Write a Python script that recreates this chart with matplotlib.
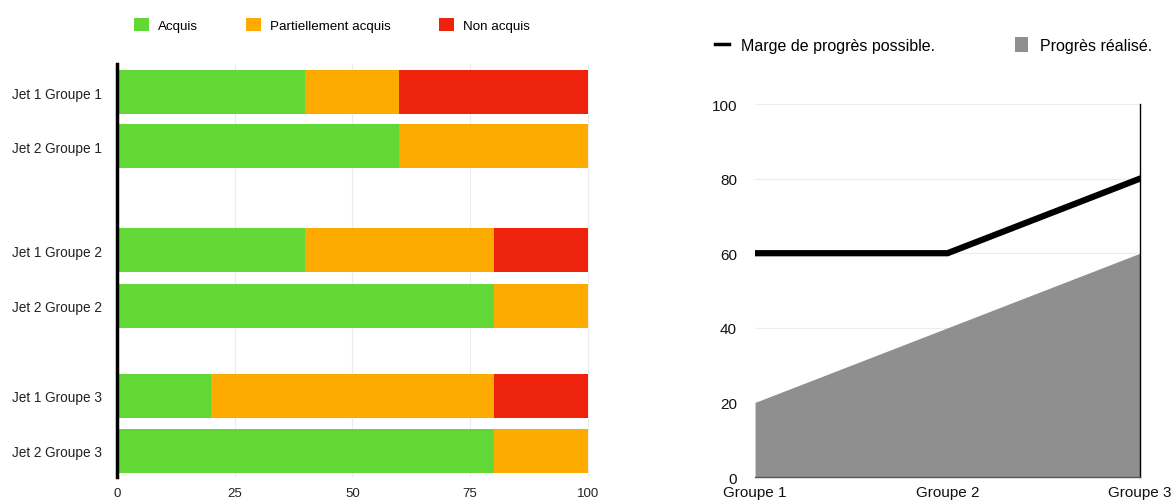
import matplotlib
matplotlib.use("Agg")
import matplotlib.pyplot as plt
from matplotlib.lines import Line2D
from matplotlib.patches import Patch

plt.rcParams['font.family'] = ['Liberation Sans', 'DejaVu Sans']

# Left chart data
bar_labels = ["Jet 1 Groupe 1", "Jet 2 Groupe 1", "Jet 1 Groupe 2",
              "Jet 2 Groupe 2", "Jet 1 Groupe 3", "Jet 2 Groupe 3"]
acquis = [40, 60, 40, 80, 20, 80]
partiel = [20, 40, 40, 20, 60, 20]
non_acquis = [40, 0, 20, 0, 20, 0]
series_names = ["Acquis", "Partiellement acquis", "Non acquis"]
xticks_left = [0, 25, 50, 75, 100]

# Right chart data
groups = ["Groupe 1", "Groupe 2", "Groupe 3"]
marge = [60, 60, 80]
progres = [20, 40, 60]
yticks_right = [0, 20, 40, 60, 80, 100]

c_green = "#62d836"
c_orange = "#fdab00"
c_red = "#ee230c"
c_grey = "#8f8f8f"

fig = plt.figure(figsize=(11.75, 5.02), dpi=100)

# ---- Left: stacked horizontal bars
ax1 = fig.add_axes([0.0996, 0.0478, 0.4030, 0.8227])
ypos = [0, 0.99, 2.89, 3.91, 5.56, 6.57]
h = 0.81
left2 = [a for a in acquis]
left3 = [a + p for a, p in zip(acquis, partiel)]
ax1.barh(ypos, acquis, height=h, color=c_green, label=series_names[0], zorder=2)
ax1.barh(ypos, partiel, left=left2, height=h, color=c_orange, label=series_names[1], zorder=2)
ax1.barh(ypos, non_acquis, left=left3, height=h, color=c_red, label=series_names[2], zorder=2)
ax1.set_ylim(7.05, -0.52)
ax1.set_xlim(0, 100.6)
ax1.set_yticks(ypos)
ax1.set_yticklabels(bar_labels, fontsize=9.8, color="#222222")
ax1.set_xticks(xticks_left)
ax1.set_xticklabels([str(v) for v in xticks_left], fontsize=9.5, color="#222222")
ax1.tick_params(axis='y', length=0, pad=11)
ax1.tick_params(axis='x', length=0, pad=7)
ax1.xaxis.grid(True, color="#ececec", linewidth=0.8, zorder=0)
for s in ["top", "right", "bottom"]:
    ax1.spines[s].set_visible(False)
ax1.spines["left"].set_linewidth(2.5)
ax1.spines["left"].set_color("black")
ax1.legend(loc="lower left", bbox_to_anchor=(0.025, 1.065), ncol=3, frameon=False,
           fontsize=9.6, handlelength=1.1, handleheight=1.1, columnspacing=3.6,
           handletextpad=0.7, borderaxespad=0)

# ---- Right: area + line
ax2 = fig.add_axes([0.6426, 0.0478, 0.3276, 0.7430])
xs = list(range(len(groups)))
ax2.fill_between(xs, progres, 0, color=c_grey, linewidth=0, zorder=2)
ax2.plot(xs, marge, color="black", linewidth=4.5, solid_joinstyle="miter", zorder=3)
ax2.set_xlim(0, len(groups) - 1)
ax2.set_ylim(0, 100)
ax2.set_xticks(xs)
ax2.set_xticklabels(groups, fontsize=11, color="#111111")
ax2.set_yticks(yticks_right)
ax2.set_yticklabels([str(v) for v in yticks_right], fontsize=11, color="#111111")
ax2.tick_params(axis='both', length=0)
ax2.tick_params(axis='y', pad=13)
ax2.tick_params(axis='x', pad=6)
ax2.yaxis.grid(True, color="#ececec", linewidth=0.8, zorder=0)
for s in ["top", "left"]:
    ax2.spines[s].set_visible(False)
ax2.spines["right"].set_linewidth(1.0)
ax2.spines["right"].set_color("black")
ax2.spines["bottom"].set_linewidth(1.0)
ax2.spines["bottom"].set_color("#555555")
handles = [Line2D([0], [0], color="black", linewidth=2.5),
           Patch(facecolor=c_grey, edgecolor="none")]
ax2.legend(handles, ["Marge de progrès possible.", "Progrès réalisé."],
           loc="lower left", bbox_to_anchor=(-0.12, 1.12), ncol=2, frameon=False,
           fontsize=11.5, handlelength=0.85, handleheight=1.0, columnspacing=5.0,
           handletextpad=0.75, borderaxespad=0)

fig.savefig("out.png", dpi=100)
